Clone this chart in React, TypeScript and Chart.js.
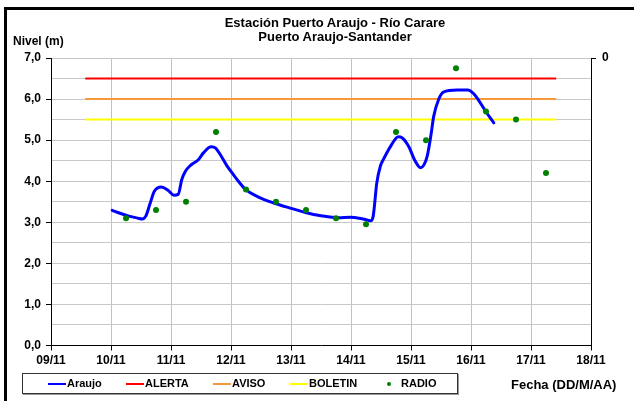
import React, { useEffect, useRef } from "react";
import { Chart, registerables } from "chart.js";

Chart.register(...registerables);

// X values are days since 09/11 00:00
const xTickLabels = ["09/11", "10/11", "11/11", "12/11", "13/11", "14/11", "15/11", "16/11", "17/11", "18/11"];
const yTickValues = [0, 1, 2, 3, 4, 5, 6, 7];

const araujoT = [
  1.02, 1.15, 1.3, 1.45, 1.52, 1.58, 1.65, 1.72, 1.84, 1.95, 2.05, 2.12, 2.18, 2.24, 2.32, 2.46,
  2.54, 2.67, 2.74, 2.82, 2.93, 3.04, 3.15, 3.24, 3.45, 3.71, 4.0, 4.24, 4.5, 4.79, 4.99, 5.2,
  5.33, 5.37, 5.43, 5.49, 5.54, 5.66, 5.79, 5.85, 5.96, 6.07, 6.16, 6.22, 6.27, 6.33, 6.38, 6.46,
  6.54, 6.77, 6.95, 7.03, 7.1, 7.24, 7.38,
];
const araujoV = [
  3.29, 3.22, 3.15, 3.1, 3.08, 3.15, 3.45, 3.75, 3.86, 3.78, 3.66, 3.68, 4.04, 4.24, 4.38, 4.53,
  4.69, 4.84, 4.81, 4.65, 4.38, 4.16, 3.95, 3.8, 3.62, 3.47, 3.34, 3.24, 3.16, 3.11, 3.12, 3.08,
  3.04, 3.15, 3.96, 4.37, 4.53, 4.85, 5.08, 5.06, 4.85, 4.49, 4.33, 4.41, 4.61, 5.1, 5.59, 5.99,
  6.17, 6.22, 6.22, 6.15, 6.03, 5.71, 5.42,
];

const radioT = [1.25, 1.75, 2.25, 2.75, 3.25, 3.75, 4.25, 4.75, 5.25, 5.75, 6.25, 6.75, 7.25, 7.75, 8.25];
const radioV = [3.1, 3.3, 3.5, 5.2, 3.8, 3.5, 3.3, 3.1, 2.95, 5.2, 5.0, 6.75, 5.7, 5.5, 4.2];

const thresholdT = [0.57, 8.42];
const alertaV = 6.5;
const avisoV = 6.0;
const boletinV = 5.5;

const BLUE = "#0000ff";
const RED = "#ff0000";
const ORANGE = "#f59a3c";
const YELLOW = "#ffff00";
const GREEN = "#008000";
const FONT = "'Liberation Sans', Arial, sans-serif";

export default function App() {
  const ref = useRef<HTMLCanvasElement | null>(null);

  useEffect(() => {
    document.body.style.margin = "0";
    const canvas = ref.current!;
    const pts = (ts: number[], vs: number[]) => ts.map((t, i) => ({ x: t, y: vs[i] }));
    const flat = (v: number) => thresholdT.map((t) => ({ x: t, y: v }));
    const tickFont = { family: FONT, size: 12, weight: "bold" as const };

    const chart = new Chart(canvas, {
      type: "line",
      data: {
        datasets: [
          {
            label: "RADIO",
            data: pts(radioT, radioV),
            showLine: false,
            pointRadius: 3,
            pointBackgroundColor: GREEN,
            pointBorderColor: GREEN,
            pointBorderWidth: 0,
          },
          {
            label: "Araujo",
            data: pts(araujoT, araujoV),
            borderColor: BLUE,
            borderWidth: 3,
            pointRadius: 0,
            cubicInterpolationMode: "monotone",
            borderJoinStyle: "round",
            borderCapStyle: "round",
          },
          {
            label: "ALERTA",
            data: flat(alertaV),
            borderColor: RED,
            borderWidth: 2,
            pointRadius: 0,
          },
          {
            label: "AVISO",
            data: flat(avisoV),
            borderColor: ORANGE,
            borderWidth: 2,
            pointRadius: 0,
          },
          {
            label: "BOLETIN",
            data: flat(boletinV),
            borderColor: YELLOW,
            borderWidth: 2,
            pointRadius: 0,
          },
        ],
      },
      options: {
        responsive: false,
        animation: false,
        devicePixelRatio: 1,
        layout: { padding: { top: 58, left: 0, right: 0, bottom: 0 } },
        plugins: { legend: { display: false }, tooltip: { enabled: false }, title: { display: false } },
        scales: {
          x: {
            type: "linear",
            min: 0,
            max: 9,
            afterFit: (s: any) => {
              s.height = 55.5;
            },
            ticks: {
              stepSize: 1,
              autoSkip: false,
              maxRotation: 0,
              padding: 3,
              color: "#000",
              font: tickFont,
              callback: (v: any) => xTickLabels[Math.round(v)] ?? "",
            },
            grid: { color: "#c0c0c0", lineWidth: 1, tickLength: 5, tickColor: "#000" },
            border: { color: "#000", width: 1 },
          },
          y: {
            type: "linear",
            position: "left",
            min: 0,
            max: 7,
            afterFit: (s: any) => {
              s.width = 51;
            },
            ticks: {
              stepSize: 0.5,
              autoSkip: false,
              padding: 5,
              color: "#000",
              font: tickFont,
              callback: (v: any) =>
                yTickValues.includes(Number(v)) ? Number(v).toFixed(1).replace(".", ",") : "",
            },
            grid: {
              color: "#c8c8c8",
              lineWidth: 1,
              tickLength: 5,
              tickColor: (ctx: any) =>
                ctx.tick && yTickValues.includes(ctx.tick.value) ? "#000" : "rgba(0,0,0,0)",
            },
            border: { color: "#000", width: 1 },
          },
          y2: {
            type: "linear",
            position: "right",
            min: 0,
            max: 7,
            afterFit: (s: any) => {
              s.width = 43;
            },
            afterBuildTicks: (s: any) => {
              s.ticks = [{ value: 7 }];
            },
            ticks: {
              padding: 6,
              color: "#000",
              font: tickFont,
              callback: () => "0",
            },
            grid: { display: true, drawOnChartArea: false, tickLength: 5, tickColor: "#000" },
            border: { color: "#000", width: 1 },
          },
        },
      },
    } as any);
    return () => chart.destroy();
  }, []);

  const textStyle: React.CSSProperties = {
    position: "absolute",
    fontFamily: FONT,
    fontWeight: "bold",
    fontSize: 11,
    color: "#000",
    whiteSpace: "nowrap",
    lineHeight: "13px",
  };

  const legendItems = [
    { label: "Araujo", color: BLUE, x: 32, kind: "line" },
    { label: "ALERTA", color: RED, x: 110, kind: "line" },
    { label: "AVISO", color: ORANGE, x: 197, kind: "line" },
    { label: "BOLETIN", color: YELLOW, x: 274, kind: "line" },
    { label: "RADIO", color: GREEN, x: 364, kind: "dot" },
  ];

  return (
    <div style={{ position: "fixed", left: 0, top: 0, width: 634, height: 401, background: "#fff", overflow: "hidden" }}>
      <div
        style={{
          position: "absolute",
          left: 4,
          top: 7,
          width: 700,
          height: 500,
          borderLeft: "3px solid #000",
          borderTop: "3px solid #000",
        }}
      />
      <canvas ref={ref} width={634} height={401} style={{ position: "absolute", left: 0, top: 0 }} />
      <div style={{ ...textStyle, left: 135, width: 400, top: 15, textAlign: "center", fontSize: 13, lineHeight: "15px" }}>
        Estación Puerto Araujo - Río Carare
      </div>
      <div style={{ ...textStyle, left: 135, width: 400, top: 29, textAlign: "center", fontSize: 13, lineHeight: "15px" }}>
        Puerto Araujo-Santander
      </div>
      <div style={{ ...textStyle, left: 13, top: 34, fontSize: 12, lineHeight: "14px" }}>Nivel (m)</div>
      <div style={{ ...textStyle, left: 511, top: 377, fontSize: 13, lineHeight: "15px" }}>Fecha (DD/M/AA)</div>
      <div
        style={{
          position: "absolute",
          left: 22,
          top: 373,
          width: 434,
          height: 19,
          border: "1px solid #333",
          boxShadow: "1px 1px 0 #999",
          background: "#fff",
        }}
      >
        {legendItems.map((it) => (
          <div key={it.label} style={{ position: "absolute", left: it.x - 22, top: 0, height: 19 }}>
            {it.kind === "line" ? (
              <div
                style={{
                  position: "absolute",
                  left: 15,
                  top: 9,
                  width: 18,
                  height: 2,
                  background: it.color,
                }}
              />
            ) : (
              <div
                style={{
                  position: "absolute",
                  left: 22,
                  top: 8,
                  width: 4,
                  height: 4,
                  borderRadius: 2,
                  background: it.color,
                }}
              />
            )}
            <div style={{ ...textStyle, left: it.kind === "line" ? 34 : 36, top: 3 }}>{it.label}</div>
          </div>
        ))}
      </div>
    </div>
  );
}
